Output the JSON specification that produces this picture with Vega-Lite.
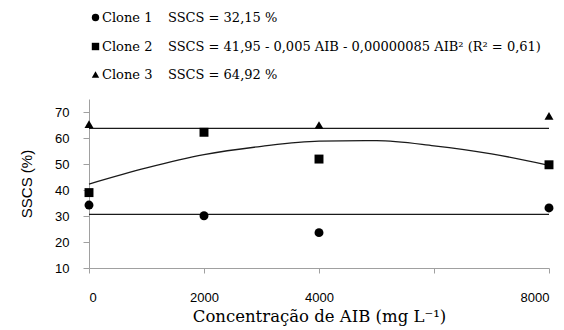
{
  "$schema": "https://vega.github.io/schema/vega-lite/v6.json",
  "width": 460,
  "height": 169,
  "autosize": {"type": "none"},
  "padding": {"left": 89, "top": 99, "right": 15, "bottom": 62},
  "background": "white",
  "datasets": {
    "points": [
      {"clone": "Clone 1", "AIB": 0, "SSCS": 34.2},
      {"clone": "Clone 1", "AIB": 2000, "SSCS": 30.1},
      {"clone": "Clone 1", "AIB": 4000, "SSCS": 23.6},
      {"clone": "Clone 1", "AIB": 8000, "SSCS": 33.1},
      {"clone": "Clone 2", "AIB": 0, "SSCS": 39.0},
      {"clone": "Clone 2", "AIB": 2000, "SSCS": 62.2},
      {"clone": "Clone 2", "AIB": 4000, "SSCS": 51.9},
      {"clone": "Clone 2", "AIB": 8000, "SSCS": 49.7},
      {"clone": "Clone 3", "AIB": 0, "SSCS": 65.3},
      {"clone": "Clone 3", "AIB": 4000, "SSCS": 65.0},
      {"clone": "Clone 3", "AIB": 8000, "SSCS": 68.5}
    ],
    "fits": [
      {"clone": "Clone 1", "AIB": 0, "SSCS": 30.6},
      {"clone": "Clone 1", "AIB": 8000, "SSCS": 30.6},
      {"clone": "Clone 3", "AIB": 0, "SSCS": 63.7},
      {"clone": "Clone 3", "AIB": 8000, "SSCS": 63.7},
      {"clone": "Clone 2", "AIB": 0, "SSCS": 42.3},
      {"clone": "Clone 2", "AIB": 1000, "SSCS": 48.5},
      {"clone": "Clone 2", "AIB": 2000, "SSCS": 53.6},
      {"clone": "Clone 2", "AIB": 3000, "SSCS": 56.8},
      {"clone": "Clone 2", "AIB": 4000, "SSCS": 58.8},
      {"clone": "Clone 2", "AIB": 5000, "SSCS": 59.0},
      {"clone": "Clone 2", "AIB": 6000, "SSCS": 57.0},
      {"clone": "Clone 2", "AIB": 7000, "SSCS": 53.9},
      {"clone": "Clone 2", "AIB": 8000, "SSCS": 49.5}
    ]
  },
  "encoding": {
    "x": {
      "field": "AIB", "type": "quantitative",
      "scale": {"domain": [0, 8000], "nice": false},
      "axis": {
        "values": [0, 2000, 4000, 6000, 8000],
        "format": "d",
        "labelExpr": "datum.value == 6000 ? '' : datum.label",
        "labelOverlap": false,
        "title": "Concentração de AIB (mg L⁻¹)",
        "titleFont": "DejaVu Serif",
        "titleFontSize": 16.5,
        "titleFontWeight": "normal",
        "titleColor": "black",
        "titlePadding": 4,
        "labelPadding": 18,
        "tickSize": 5
      }
    },
    "y": {
      "field": "SSCS", "type": "quantitative",
      "scale": {"domain": [10, 75], "nice": false, "zero": false},
      "axis": {
        "values": [10, 20, 30, 40, 50, 60, 70],
        "labelOverlap": false,
        "title": "SSCS (%)",
        "titleFont": "Liberation Sans",
        "titleFontSize": 15,
        "titleFontWeight": "normal",
        "titleColor": "black",
        "titlePadding": 20,
        "labelPadding": 14,
        "tickSize": 6
      }
    }
  },
  "layer": [
    {
      "data": {"name": "fits"},
      "mark": {"type": "line", "color": "#1a1a1a", "strokeWidth": 1.3, "interpolate": "monotone"},
      "encoding": {
        "detail": {"field": "clone"}
      }
    },
    {
      "data": {"name": "points"},
      "mark": {"type": "point", "filled": true, "color": "black", "opacity": 1, "size": 80},
      "encoding": {
        "shape": {
          "field": "clone", "type": "nominal",
          "scale": {"domain": ["Clone 1", "Clone 2", "Clone 3"], "range": ["circle", "square", "triangle-up"]},
          "legend": {
            "orient": "none",
            "legendX": 0,
            "legendY": -88,
            "title": null,
            "symbolSize": 55,
            "symbolFillColor": "black",
            "symbolStrokeColor": "black",
            "labelFont": "DejaVu Serif",
            "labelFontSize": 13,
            "labelColor": "black",
            "labelLimit": 600,
            "labelOffset": 0,
            "rowPadding": 14,
            "padding": 0,
            "labelExpr": "datum.label == 'Clone 1' ? 'Clone 1\u2003\u2009SSCS = 32,15 %' : datum.label == 'Clone 2' ? 'Clone 2\u2003\u2009SSCS =  41,95 - 0,005 AIB - 0,00000085 AIB² (R² = 0,61)' : 'Clone 3\u2003\u2009SSCS = 64,92 %'"
          }
        }
      }
    }
  ],
  "config": {
    "view": {"stroke": null},
    "axis": {
      "grid": false,
      "domainColor": "#a0a0a0",
      "tickColor": "#a0a0a0",
      "labelColor": "black",
      "labelFont": "Liberation Sans",
      "labelFontSize": 13
    }
  }
}
